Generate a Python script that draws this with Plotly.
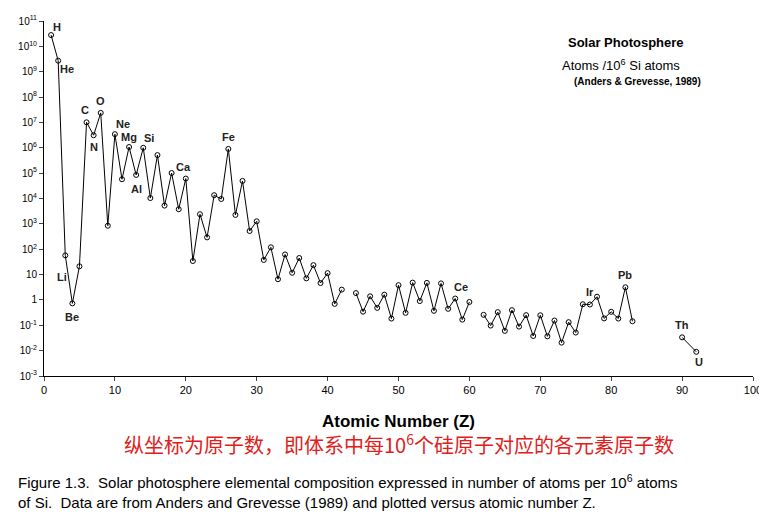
import math
import plotly.graph_objects as go

# Anders & Grevesse (1989), atoms per 10^6 Si atoms; None = gap in line
z = list(range(1, 84)) + [None, 90, 92]
abund = [2.79e10, 2.72e9, 57.1, 0.73, 21.2, 1.01e7, 3.13e6, 2.38e7, 843, 3.44e6,
         5.74e4, 1.074e6, 8.49e4, 1.0e6, 1.04e4, 5.15e5, 5240, 1.01e5, 3770, 6.11e4,
         34.2, 2400, 293, 1.35e4, 9550, 9.0e5, 2250, 4.93e4, 522, 1260,
         37.8, 119, 6.56, 62.1, 11.8, 45, 7.09, 23.5, 4.64, 11.4,
         0.698, 2.55, None, 1.86, 0.344, 1.39, 0.486, 1.61, 0.184, 3.82,
         0.309, 4.81, 0.9, 4.7, 0.372, 4.49, 0.446, 1.136, 0.1669, 0.8279,
         None, 0.2582, 0.0973, 0.33, 0.0603, 0.3942, 0.0889, 0.2508, 0.0378, 0.2479,
         0.0367, 0.154, 0.0207, 0.133, 0.0517, 0.675, 0.661, 1.34, 0.187, 0.34,
         0.184, 3.15, 0.144, None, 0.0335, 0.009]

labels = ["H", "He", "Li", "Be", "C", "N", "O", "Ne", "Mg", "Si", "Al", "Ca", "Fe",
          "Ce", "Ir", "Pb", "Th", "U"]
label_z = [1, 2, 3, 4, 6, 7, 8, 10, 12, 14, 13, 20, 26, 58, 77, 82, 90, 92]
label_dx = [6, 9, -3, 0, -2, 0, 0, 8, 0, 6, 0, -2, 0, 6, 0, 0, 0, 3]
label_dy = [8, -8, -22, -14, 12, -12, 12, 10, 10, 10, -14, 12, 12, 12, 12, 12, 12, -10]

tick_vals = [10.0 ** e for e in range(-3, 12)]
tick_text = ["10<sup>%d</sup>" % e for e in range(-3, 12)]
tick_text[3] = "1"
tick_text[4] = "10"

fig = go.Figure()
fig.add_trace(go.Scatter(x=z, y=abund, mode="lines+markers",
                         line=dict(color="black", width=1),
                         marker=dict(symbol="circle-open", size=5, color="black", line=dict(width=1))))

ann = []
for lab, zz, dx, dy in zip(labels, label_z, label_dx, label_dy):
    ann.append(dict(x=zz, y=math.log10(abund[z.index(zz)]), yref="y", xref="x", text="<b>%s</b>" % lab,
                    showarrow=False, xshift=dx, yshift=dy, font=dict(size=11, color="#222")))

ann += [
    dict(x=0.905, y=0.965, xref="paper", yref="paper", xanchor="right", showarrow=False,
         text="<b>Solar Photosphere</b>", font=dict(size=13, color="black")),
    dict(x=0.9, y=0.905, xref="paper", yref="paper", xanchor="right", showarrow=False,
         text="Atoms /10<sup>6</sup> Si atoms", font=dict(size=13, color="black")),
    dict(x=0.93, y=0.85, xref="paper", yref="paper", xanchor="right", showarrow=False,
         text="<b>(Anders & Grevesse, 1989)</b>", font=dict(size=10, color="black")),
    dict(x=0.5, y=-0.16, xref="paper", yref="paper", showarrow=False,
         text="<b>Atomic Number (Z)</b>", font=dict(size=17, color="black")),
    dict(x=0.5, y=-0.24, xref="paper", yref="paper", showarrow=False,
         text="纵坐标为原子数，即体系中每10<sup>6</sup>个硅原子对应的各元素原子数",
         font=dict(size=20, color="#e0201b", family="Noto Sans CJK SC")),
    dict(x=-0.04, y=-0.265, xref="paper", yref="paper", xanchor="left", yanchor="top",
         align="left", showarrow=False,
         text="Figure 1.3.  Solar photosphere elemental composition expressed in number of atoms per 10<sup>6</sup> atoms<br>of Si.  Data are from Anders and Grevesse (1989) and plotted versus atomic number Z.",
         font=dict(size=15, color="black", family="Liberation Sans")),
]

fig.update_layout(
    width=767, height=516, paper_bgcolor="white", plot_bgcolor="white",
    margin=dict(l=36, r=22, t=13, b=148, autoexpand=False), showlegend=False, annotations=ann,
    font=dict(family="Liberation Sans", color="black"),
    xaxis=dict(range=[0, 100], dtick=10, showline=True, linecolor="black", ticks="outside",
               ticklen=4, showgrid=False, zeroline=False, tickfont=dict(size=11)),
    yaxis=dict(type="log", range=[-3, 11], tickvals=tick_vals, ticktext=tick_text,
               showline=True, linecolor="black", ticks="outside", ticklen=4,
               showgrid=False, tickfont=dict(size=10), automargin=False),
)

fig.write_html("out.html")
